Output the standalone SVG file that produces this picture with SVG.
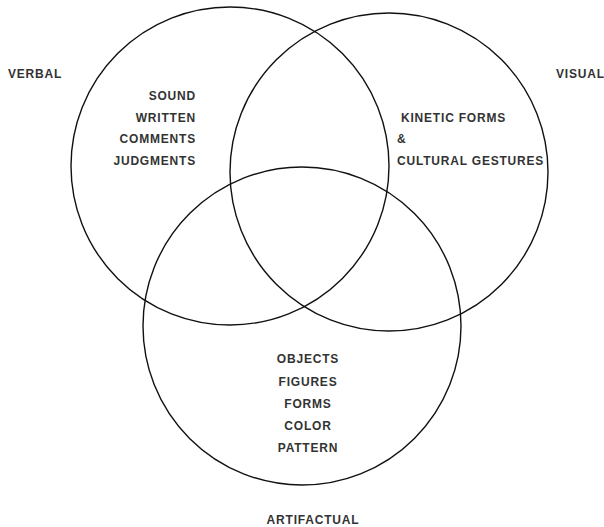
<svg xmlns="http://www.w3.org/2000/svg" width="604" height="527" viewBox="0 0 604 527">
<style>
.c{fill:none;stroke:#111;stroke-width:1.4}
text{font-family:"Liberation Sans",Arial,sans-serif;font-size:12px;font-weight:bold;letter-spacing:0.8px;fill:#333}
.r{text-anchor:end}
.m{text-anchor:middle}
</style>
<rect width="604" height="527" fill="#fff"/>
<g id="verbal">
<circle class="c" cx="230" cy="166" r="159"/>
<text x="8" y="78">VERBAL</text>
<text class="r" x="196" y="100">SOUND</text>
<text class="r" x="196" y="122">WRITTEN</text>
<text class="r" x="196" y="143">COMMENTS</text>
<text class="r" x="196" y="165">JUDGMENTS</text>
</g>
<g id="visual">
<circle class="c" cx="389" cy="172" r="159"/>
<text x="556" y="78">VISUAL</text>
<text x="401" y="122">KINETIC FORMS</text>
<text x="397" y="143">&amp;</text>
<text x="397" y="165">CULTURAL GESTURES</text>
</g>
<g id="artifactual">
<circle class="c" cx="302" cy="326" r="159"/>
<text class="m" x="308" y="363">OBJECTS</text>
<text class="m" x="308" y="386">FIGURES</text>
<text class="m" x="308" y="408">FORMS</text>
<text class="m" x="308" y="430">COLOR</text>
<text class="m" x="308" y="452">PATTERN</text>
<text class="m" x="313" y="524">ARTIFACTUAL</text>
</g>
<g id="connectors"></g>
</svg>
